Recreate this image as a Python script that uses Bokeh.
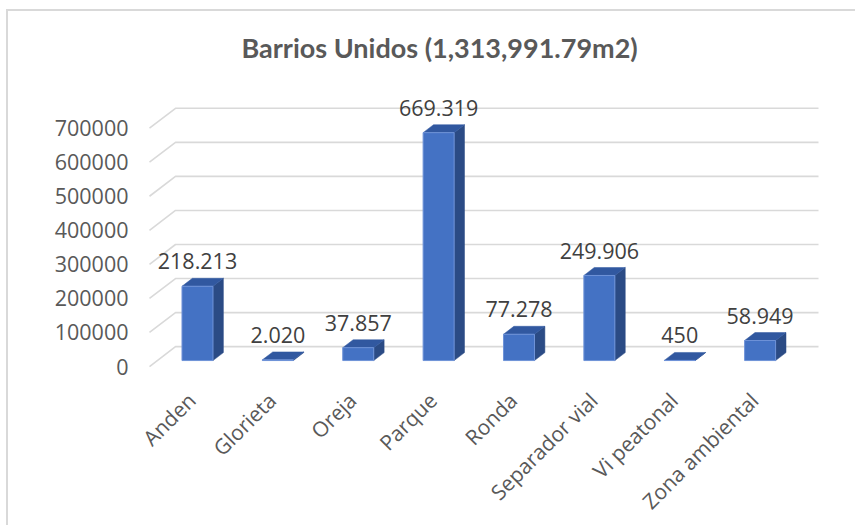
import math
from bokeh.plotting import figure
from bokeh.models import ColumnDataSource, LabelSet, Range1d, FixedTicker, BasicTickFormatter
from bokeh.core.properties import value
from bokeh.embed import file_html
from bokeh.resources import INLINE

# ---------------- data ----------------
categories = ["Anden", "Glorieta", "Oreja", "Parque", "Ronda",
              "Separador vial", "Vi peatonal", "Zona ambiental"]
areas = [218213, 2020, 37857, 669319, 77278, 249906, 450, 58949]
y_ticks = [0, 100000, 200000, 300000, 400000, 500000, 600000, 700000]
title_text = "Barrios Unidos (1,313,991.79m2)"

# ---------------- layout (pixels, canvas coordinates) ----------------
W, H = 849, 516
FL, FR, FT, FB = 135, 849, 67, 359          # frame edges on canvas
PX_CAT = 80.375                              # px per category
PX_Y = 240.0 / 700000.0                      # px per unit of value
X0 = 141                                     # canvas x of front-plane left edge
Y0 = 357                                     # canvas y of value 0 on front plane

DX = 26 / PX_CAT                             # depth offset (data units)
DY = 20 / PX_Y
FA, FBK = 0.30, 0.70                         # bar front / back depth fraction
BW = 31 / PX_CAT                             # bar width
LBL_SHIFT = 2.0 / PX_CAT                     # category label shift
N = len(categories)

p = figure(width=W, height=H, output_backend="svg", toolbar_location=None,
           x_range=Range1d((FL - X0) / PX_CAT, (FR - X0) / PX_CAT),
           y_range=Range1d((Y0 - FB) / PX_Y, (Y0 - FT) / PX_Y),
           min_border_left=FL, min_border_right=0,
           min_border_top=FT, min_border_bottom=H - FB)
p.styles = {"margin-left": "6px", "margin-top": "9px",
            "border-top": "2px solid #d9d9d9", "border-left": "2px solid #d9d9d9"}
p.outline_line_color = None
p.grid.visible = False

p.title.text = title_text
p.title.text_font = "Lato"
p.title.text_font_size = "27px"
p.title.text_font_style = "bold"
p.title.text_color = "#595959"
p.title.align = "left"
p.title.offset = 98
p.title.standoff = 30

# gridlines in perspective
gx, gy = [], []
for v in y_ticks:
    gx.append([0, DX, N + DX])
    gy.append([v, v + DY, v + DY])
p.multi_line(gx, gy, line_color="#d9d9d9", line_width=1.6)

# 3D bars
front_x, front_y, top_x, top_y, side_x, side_y = [], [], [], [], [], []
lab_x, lab_y, lab_t = [], [], []
ddx, ddy = (FBK - FA) * DX, (FBK - FA) * DY
for i, v in enumerate(areas):
    cx = i + 0.5 + FA * DX
    x0, x1 = cx - BW / 2, cx + BW / 2
    y0, y1 = FA * DY, v + FA * DY
    front_x.append([x0, x1, x1, x0]); front_y.append([y0, y0, y1, y1])
    top_x.append([x0, x1, x1 + ddx, x0 + ddx]); top_y.append([y1, y1, y1 + ddy, y1 + ddy])
    side_x.append([x1, x1 + ddx, x1 + ddx, x1]); side_y.append([y0, y0 + ddy, y1 + ddy, y1])
    lab_x.append(cx); lab_y.append(v + FBK * DY)
    lab_t.append(f"{v:,}".replace(",", "."))

p.patches(side_x, side_y, fill_color="#2B4B85", line_color="#2B4B85", line_width=0.5)
p.patches(top_x, top_y, fill_color="#3158A0", line_color="#3158A0", line_width=0.5)
p.patches(front_x, front_y, fill_color="#4472C4", line_color="#6F93D8", line_width=1)

src = ColumnDataSource(dict(x=lab_x, y=lab_y, t=lab_t))
p.add_layout(LabelSet(x="x", y="y", text="t", source=src, y_offset=9,
                      text_align="center", text_baseline="alphabetic",
                      text_font=value("Open Sans"), text_font_size=value("21.5px"),
                      text_color=value("#404040")))

# y axis
ya = p.yaxis[0]
ya.ticker = FixedTicker(ticks=y_ticks)
ya.formatter = BasicTickFormatter(use_scientific=False)
ya.axis_line_color = None
ya.major_tick_line_color = None
ya.minor_tick_line_color = None
ya.major_tick_out = 0
ya.major_tick_in = 0
ya.major_label_standoff = 15
ya.major_label_text_font = "Open Sans"
ya.major_label_text_font_size = "21.5px"
ya.major_label_text_color = "#595959"

# x axis
ticks_x = [i + 0.5 + LBL_SHIFT for i in range(N)]
xa = p.xaxis[0]
xa.ticker = FixedTicker(ticks=ticks_x)
xa.major_label_overrides = {t: name for t, name in zip(ticks_x, categories)}
xa.major_label_orientation = math.pi / 4
xa.axis_line_color = None
xa.major_tick_line_color = None
xa.minor_tick_line_color = None
xa.major_tick_out = 0
xa.major_tick_in = 0
xa.major_label_standoff = 28
xa.major_label_text_font = "Open Sans"
xa.major_label_text_font_size = "21px"
xa.major_label_text_color = "#595959"

open("out.html", "w").write(file_html(p, INLINE))
